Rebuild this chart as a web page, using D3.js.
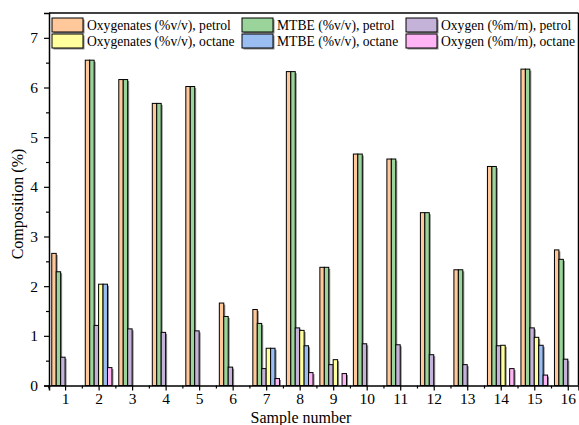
<!DOCTYPE html>
<html lang="en">
<head>
<meta charset="UTF-8">
<title>Composition by sample</title>
<script src="https://cdnjs.cloudflare.com/ajax/libs/d3/7.8.5/d3.min.js"></script>
<style>
  body { margin: 0; background: #fff; }
  svg { display: block; }
  svg text { font-family: "Liberation Serif", "Times New Roman", Times, serif; fill: #000; }
</style>
</head>
<body>
<svg id="chart" width="579" height="425"></svg>
<script>
const samples = [1,2,3,4,5,6,7,8,9,10,11,12,13,14,15,16];
const seriesNames = [
  "Oxygenates (%v/v), petrol", "MTBE (%v/v), petrol", "Oxygen (%m/m), petrol",
  "Oxygenates (%v/v), octane", "MTBE (%v/v), octane", "Oxygen (%m/m), octane"
];
const oxyPetrol  = [2.66, 6.55, 6.16, 5.68, 6.02, 1.66, 1.53, 6.32, 2.38, 4.66, 4.56, 3.48, 2.33, 4.41, 6.37, 2.73];
const mtbePetrol = [2.29, 6.55, 6.16, 5.68, 6.02, 1.39, 1.25, 6.32, 2.38, 4.66, 4.56, 3.48, 2.33, 4.41, 6.37, 2.54];
const o2Petrol   = [0.57, 1.21, 1.14, 1.07, 1.10, 0.37, 0.34, 1.16, 0.42, 0.84, 0.82, 0.62, 0.42, 0.80, 1.16, 0.53];
const oxyOctane  = [0, 2.04, 0, 0, 0, 0, 0.75, 1.11, 0.52, 0, 0, 0, 0, 0.81, 0.97, 0];
const mtbeOctane = [0, 2.04, 0, 0, 0, 0, 0.75, 0.80, 0, 0, 0, 0, 0, 0, 0.81, 0];
const o2Octane   = [0, 0.36, 0, 0, 0, 0, 0.14, 0.26, 0.24, 0, 0, 0, 0, 0.34, 0.21, 0];
const seriesValues = [oxyPetrol, mtbePetrol, o2Petrol, oxyOctane, mtbeOctane, o2Octane];
const colors = ["#fec89a", "#9ad49a", "#c4b2d8", "#ffff9e", "#9abdf2", "#ffb5f5"];
const yTicks = [0,1,2,3,4,5,6,7];
const FONT = "Liberation Serif, Times New Roman, serif";

const svg = d3.select("#chart");
const mLeft = 49, mRight = 578.5, mTop = 13, mBottom = 385.5;

const x = d3.scaleLinear().domain([0.52, 16.32]).range([mLeft, mRight]);
const y = d3.scaleLinear().domain([0, 7.5]).range([mBottom, mTop]);
const step = x(2) - x(1);
const bw = step * 0.1325;

// bars (skip zero values)
const rows = [];
seriesValues.forEach((vals, si) => {
  vals.forEach((v, i) => {
    if (v > 0) rows.push({ s: si, sample: samples[i], v });
  });
});
const bars = svg.append("g");
bars.selectAll("rect.shadow").data(rows).join("rect")
  .attr("class", "shadow")
  .attr("x", d => x(d.sample) + (d.s - 3) * bw + 1.5)
  .attr("y", d => y(d.v) + 1.5)
  .attr("width", bw)
  .attr("height", d => Math.max(0, mBottom - y(d.v) - 1.5))
  .attr("fill", "#8a8a8a");
bars.selectAll("rect.bar").data(rows).join("rect")
  .attr("class", "bar")
  .attr("x", d => x(d.sample) + (d.s - 3) * bw)
  .attr("y", d => y(d.v))
  .attr("width", bw)
  .attr("height", d => mBottom - y(d.v))
  .attr("fill", d => colors[d.s])
  .attr("stroke", "#000")
  .attr("stroke-width", 1);

// axes
svg.append("g").attr("transform", `translate(0,${mBottom})`)
  .call(d3.axisBottom(x).tickValues(samples).tickSize(5).tickPadding(2).tickFormat(d3.format("d")));
svg.append("g").attr("transform", `translate(0,${mBottom})`)
  .call(d3.axisBottom(x).tickValues(d3.range(0.5, 16.5, 1)).tickSize(3).tickFormat(""))
  .call(g => g.select(".domain").remove());
svg.append("g").attr("transform", `translate(${mLeft},0)`)
  .call(d3.axisLeft(y).tickValues(yTicks).tickSize(5).tickPadding(6));
svg.append("g").attr("transform", `translate(${mLeft},0)`)
  .call(d3.axisLeft(y).tickValues(d3.range(0.5, 7.5, 1)).tickSize(3).tickFormat(""))
  .call(g => g.select(".domain").remove());

svg.selectAll("g").attr("font-family", FONT);
svg.selectAll(".domain").attr("stroke", "#000").attr("stroke-width", 1.5);
svg.selectAll(".tick line").attr("stroke", "#000").attr("stroke-width", 1.2);
svg.selectAll(".tick text").attr("font-family", FONT).attr("font-size", 15.5);

// frame
svg.append("line").attr("x1", mLeft).attr("x2", mRight).attr("y1", mTop).attr("y2", mTop)
  .attr("stroke", "#000").attr("stroke-width", 1.5);
svg.append("line").attr("x1", mRight).attr("x2", mRight).attr("y1", mTop).attr("y2", mBottom)
  .attr("stroke", "#000").attr("stroke-width", 1.5);

// titles
svg.append("text").attr("x", 301).attr("y", 422.5).attr("text-anchor", "middle")
  .attr("font-family", FONT).attr("font-size", 16).text("Sample number");
svg.append("text").attr("transform", "translate(23,204) rotate(-90)").attr("text-anchor", "middle")
  .attr("font-family", FONT).attr("font-size", 16).text("Composition (%)");

// legend
const legX = [52, 242, 406], legY = [18, 34];
const leg = svg.append("g");
seriesNames.forEach((name, i) => {
  const col = i % 3, row = Math.floor(i / 3);
  const g = leg.append("g").attr("transform", `translate(${legX[col]},${legY[row]})`);
  g.append("rect").attr("x", 1.5).attr("y", 1.5).attr("width", 31).attr("height", 14).attr("fill", "#8a8a8a");
  g.append("rect").attr("width", 31).attr("height", 14).attr("fill", colors[i])
    .attr("stroke", "#000").attr("stroke-width", 1);
  g.append("text").attr("x", 35).attr("y", 12).attr("font-family", FONT).attr("font-size", 13.6).text(name);
});
</script>
</body>
</html>
